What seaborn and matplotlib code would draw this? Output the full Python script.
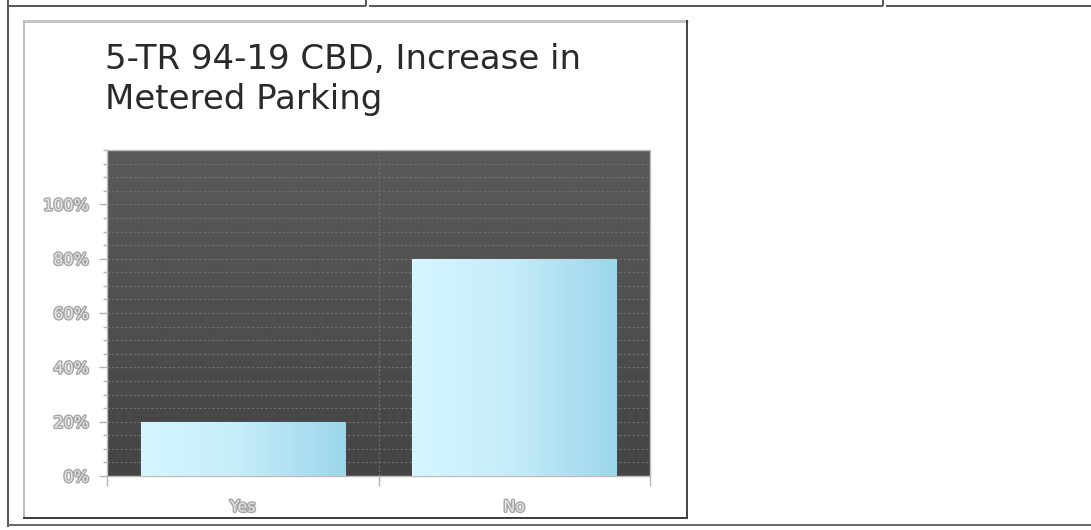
import numpy as np
import seaborn as sns
import matplotlib
matplotlib.use("Agg")
import matplotlib.pyplot as plt
import matplotlib.patheffects as pe
from matplotlib.lines import Line2D
from matplotlib.ticker import PercentFormatter, MultipleLocator, FixedLocator

# data
categories = ["Yes", "No"]
shares = [20, 80]
title = "5-TR 94-19 CBD, Increase in\nMetered Parking"

W, H = 1091, 530
sns.set_style("white")
plt.rcParams['font.family'] = ['DejaVu Sans']

fig = plt.figure(figsize=(W / 100, H / 100), dpi=100)
fig.patch.set_facecolor("white")

# plot area in pixel coords: left 107, right 650, top 150, bottom 476
ax = fig.add_axes([107 / W, 1 - 476 / H, (650 - 107) / W, (476 - 150) / H])

sns.barplot(x=categories, y=shares, ax=ax, width=0.75, color="#bfe9f7",
            edgecolor="#9fd3ea", linewidth=0.8, zorder=3)

# dark gradient background
bg = np.linspace(0, 1, 256).reshape(-1, 1)
ax.imshow(bg, extent=[0, 1, 0, 1], transform=ax.transAxes, aspect="auto",
          cmap=matplotlib.colors.LinearSegmentedColormap.from_list("bg", ["#444444", "#5a5a5a"]),
          origin="lower", zorder=0)

# light cyan gradient inside bars
bar_cmap = matplotlib.colors.LinearSegmentedColormap.from_list("bar", ["#d6f6ff", "#c4ecfa", "#9cd6ea"])
grad = np.linspace(0, 1, 256).reshape(1, -1)
for p in ax.patches:
    x0, y0 = p.get_x(), p.get_y()
    w, h = p.get_width(), p.get_height()
    im = ax.imshow(grad, extent=[x0, x0 + w, y0, y0 + h], aspect="auto",
                   cmap=bar_cmap, zorder=3.5)
    im.set_clip_path(p)

ax.set_xlim(-0.5, 1.5)
ax.set_ylim(0, 120)

# dotted grid every 5%
ax.yaxis.set_major_locator(FixedLocator([0, 20, 40, 60, 80, 100]))
ax.yaxis.set_minor_locator(MultipleLocator(5))
ax.yaxis.set_major_formatter(PercentFormatter(decimals=0))
ax.grid(False)
for v in np.arange(5, 120, 5):
    ax.axhline(v, color="#6c6c6c", lw=0.9, ls=(0, (2, 1.5)), zorder=1)
ax.axvline(0.5, color="#6c6c6c", lw=0.9, ls=(0, (2, 1.5)), zorder=1)

ax.xaxis.set_minor_locator(FixedLocator([-0.5, 0.5, 1.5]))
ax.tick_params(axis="y", which="major", direction="out", length=6, width=1,
               color="#b4b4b4", pad=7, left=True, labelsize=11.5,
               labelcolor="#e4e4e4")
ax.tick_params(axis="y", which="minor", direction="out", length=3, width=1,
               color="#b4b4b4", left=True)
ax.tick_params(axis="x", which="major", length=0, pad=17, labelsize=11.5,
               labelcolor="#e4e4e4")
ax.tick_params(axis="x", which="minor", direction="out", length=7, width=1,
               color="#b4b4b4", bottom=True)
for lab in ax.get_xticklabels() + ax.get_yticklabels():
    lab.set_path_effects([pe.withStroke(linewidth=2, foreground="#a6a6a6")])

for side in ["left", "bottom", "top", "right"]:
    ax.spines[side].set_visible(True)
    ax.spines[side].set_color("#bdbdbd")
    ax.spines[side].set_linewidth(1.0)
ax.set_xlabel("")
ax.set_ylabel("")

fig.text(105 / W, 1 - 43 / H, title, ha="left", va="top", fontsize=24.5,
         color="#2a2a2a", linespacing=1.25)


def line(xs, ys, color, width):
    fig.add_artist(Line2D([x / W for x in xs], [1 - y / H for y in ys],
                          transform=fig.transFigure, color=color,
                          lw=width * 0.72, solid_capstyle="butt"))


# surrounding table borders
line([8, 8], [0, 527], "#5a5a5a", 2)
line([8, 366], [6, 6], "#5a5a5a", 2)
line([369, 883], [6, 6], "#5a5a5a", 2)
line([886, 1091], [6, 6], "#5a5a5a", 2)
line([366, 366], [0, 6], "#5a5a5a", 2)
line([883, 883], [0, 6], "#5a5a5a", 2)
line([8, 1091], [525, 525], "#6a6a6a", 2)

# chart panel outset border
line([23, 688], [21, 21], "#c4c4c4", 3)
line([24, 24], [20, 519], "#bcbcbc", 2)
line([687, 687], [20, 519], "#454545", 2)
line([23, 688], [518, 518], "#404040", 2)

fig.savefig("out.png", dpi=100, facecolor="white")
